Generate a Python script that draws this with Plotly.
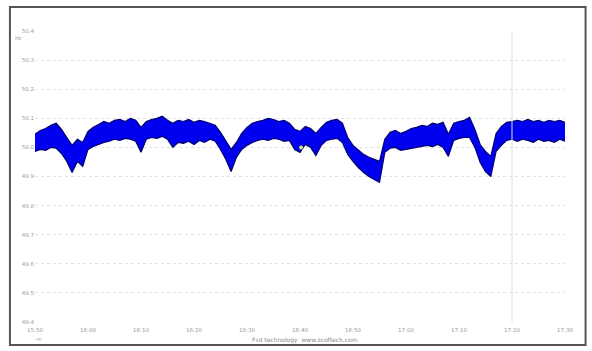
import plotly.graph_objects as go

# minutes from start
minutes = list(range(101))

upper_hz = [50.045, 50.058, 50.065, 50.076, 50.083, 50.062, 50.034, 50.007, 50.028, 50.017,
            50.055, 50.069, 50.079, 50.089, 50.083, 50.093, 50.096, 50.089, 50.100, 50.093,
            50.069, 50.089, 50.096, 50.100, 50.107, 50.093, 50.083, 50.093, 50.089, 50.096,
            50.086, 50.093, 50.089, 50.083, 50.076, 50.052, 50.024, 49.993, 50.017, 50.048,
            50.069, 50.083, 50.089, 50.093, 50.100, 50.096, 50.089, 50.093, 50.083, 50.062,
            50.055, 50.072, 50.065, 50.048, 50.069, 50.086, 50.093, 50.096, 50.083, 50.034,
            50.007, 49.990, 49.976, 49.966, 49.959, 49.952, 50.028, 50.052, 50.058, 50.048,
            50.055, 50.065, 50.069, 50.076, 50.072, 50.083, 50.079, 50.086, 50.045, 50.083,
            50.089, 50.093, 50.103, 50.062, 50.010, 49.986, 49.969, 50.048, 50.072, 50.086,
            50.089, 50.093, 50.089, 50.096, 50.089, 50.093, 50.086, 50.093, 50.089, 50.093,
            50.086]

lower_hz = [49.986, 49.993, 49.990, 50.000, 49.997, 49.979, 49.952, 49.914, 49.952, 49.935,
            49.993, 50.003, 50.010, 50.017, 50.021, 50.028, 50.024, 50.031, 50.028, 50.021,
            49.983, 50.028, 50.034, 50.031, 50.038, 50.028, 50.000, 50.017, 50.014, 50.021,
            50.010, 50.024, 50.017, 50.028, 50.021, 49.993, 49.959, 49.917, 49.966, 49.993,
            50.007, 50.017, 50.024, 50.028, 50.024, 50.031, 50.028, 50.021, 50.024, 49.993,
            49.983, 50.010, 50.000, 49.972, 50.007, 50.024, 50.028, 50.031, 50.017, 49.976,
            49.952, 49.931, 49.914, 49.900, 49.890, 49.880, 49.983, 49.997, 50.000, 49.990,
            49.993, 49.997, 50.000, 50.003, 50.007, 50.003, 50.010, 50.000, 49.969, 50.024,
            50.031, 50.034, 50.034, 50.000, 49.948, 49.917, 49.900, 49.986, 50.007, 50.024,
            50.028, 50.021, 50.028, 50.024, 50.017, 50.028, 50.021, 50.024, 50.017, 50.028,
            50.021]

x_tick_vals = [0, 10, 20, 30, 40, 50, 60, 70, 80, 90, 100]
x_tick_text = ["15:50", "16:00", "16:10", "16:20", "16:30", "16:40",
               "16:50", "17:00", "17:10", "17:20", "17:30"]
y_tick_vals = [49.4, 49.5, 49.6, 49.7, 49.8, 49.9, 50.0, 50.1, 50.2, 50.3, 50.4]
y_tick_text = ["49.4", "49.5", "49.6", "49.7", "49.8", "49.9", "50.0", "50.1", "50.2", "50.3", "50.4"]

marker_x = [50.2]
marker_y = [50.0]
cursor_x = 90

fig = go.Figure()
fig.add_trace(go.Scatter(x=minutes, y=lower_hz, mode="lines",
                         line=dict(color="#00006e", width=1.2), hoverinfo="skip",
                         showlegend=False))
fig.add_trace(go.Scatter(x=minutes, y=upper_hz, mode="lines", fill="tonexty",
                         fillcolor="#0000f0", line=dict(color="#00006e", width=1.2),
                         showlegend=False))
fig.add_trace(go.Scatter(x=marker_x, y=marker_y, mode="markers",
                         marker=dict(color="#d8e070", size=4), showlegend=False))

fig.add_shape(type="line", xref="x", yref="paper", x0=cursor_x, x1=cursor_x, y0=0, y1=1,
              line=dict(color="#dcdcdc", width=1))
fig.add_shape(type="rect", xref="paper", yref="paper", x0=-0.0473, x1=1.0388, y0=-0.0790, y1=1.0825,
              line=dict(color="#555555", width=2), fillcolor="rgba(0,0,0,0)", layer="below")

fig.add_annotation(text="Fsd technology  www.zcoftech.com", xref="paper", yref="paper",
                   x=0.51, y=-0.04, xanchor="center", yanchor="top", showarrow=False,
                   font=dict(size=6, color="#888888", family="DejaVu Sans"))
fig.add_annotation(text="Hz", xref="paper", yref="paper", x=-0.02, y=0.975,
                   xanchor="right", yanchor="middle", showarrow=False,
                   font=dict(size=5, color="#9999aa", family="DejaVu Sans"))
fig.add_annotation(text="-m", xref="paper", yref="paper", x=0.006, y=-0.04,
                   xanchor="center", yanchor="top", showarrow=False,
                   font=dict(size=5, color="#9999aa", family="DejaVu Sans"))

fig.update_layout(
    width=592, height=351,
    margin=dict(l=35, r=27, t=31, b=29),
    paper_bgcolor="white", plot_bgcolor="white",
    font=dict(family="DejaVu Sans", size=6, color="#9a9aa8"),
    xaxis=dict(range=[0, 100], tickvals=x_tick_vals, ticktext=x_tick_text,
               showgrid=False, zeroline=False, showline=False, ticks="",
               ticklabelstandoff=3,
               tickfont=dict(size=5.5, color="#9a9aa8")),
    yaxis=dict(range=[49.4, 50.4], tickvals=y_tick_vals, ticktext=y_tick_text,
               showgrid=True, gridcolor="#e2e2e2", griddash="dot", gridwidth=1,
               zeroline=False, showline=False, ticks="",
               tickfont=dict(size=5.5, color="#9a9aa8")),
)

fig.write_html("out.html")
